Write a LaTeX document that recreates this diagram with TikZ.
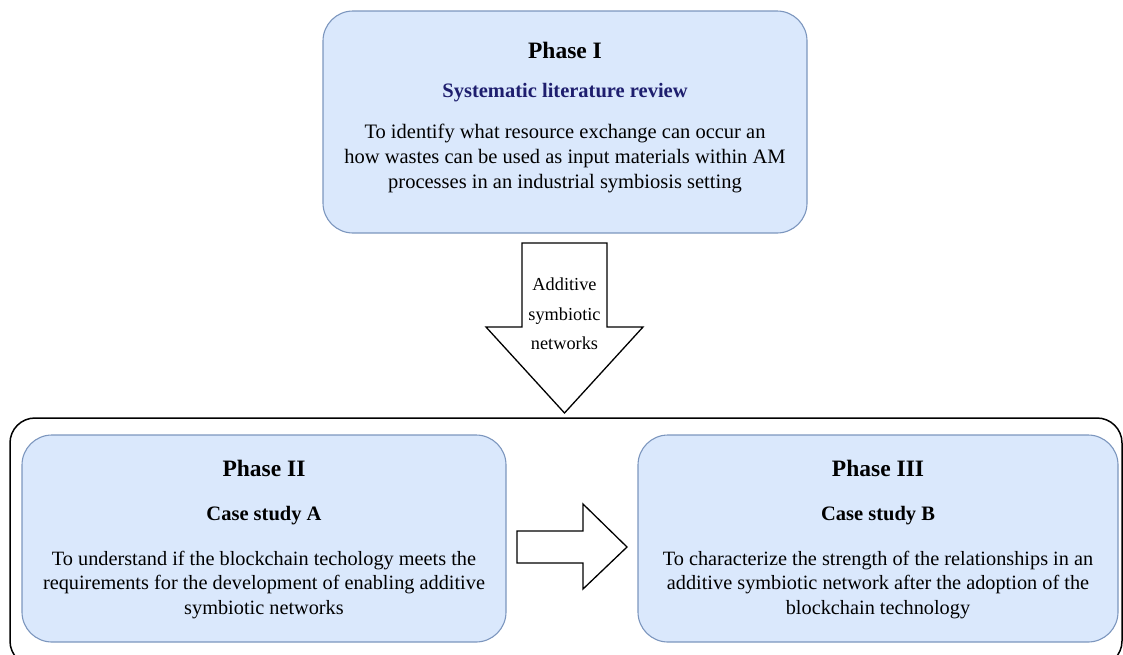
\documentclass[tikz,border=0pt]{standalone}
\usepackage{fontspec}
\setmainfont{Liberation Serif}
\definecolor{boxfill}{HTML}{DAE8FC}
\definecolor{boxline}{HTML}{7C96BE}
\definecolor{navy}{RGB}{30,30,110}
\begin{document}
\begin{tikzpicture}[x=1pt,y=-1pt,
  phasebox/.style={draw=boxline, fill=boxfill, line width=1.1pt, rounded corners=30pt},
  blockarrow/.style={draw=black, fill=white, line width=1.3pt, line join=miter},
  titletext/.style={font=\fontsize{23.5}{28}\selectfont\bfseries, inner sep=0pt},
  subtext/.style={font=\fontsize{20.5}{24}\selectfont\bfseries, inner sep=0pt},
  bodytext/.style={font=\fontsize{20.3}{24.5}\selectfont, align=center, inner sep=0pt},
  arrowtext/.style={font=\fontsize{18.3}{29.5}\selectfont, align=center, inner sep=0pt}]
\useasboundingbox (0,0) rectangle (1123,654);
% outer container
\draw[line width=1.5pt, rounded corners=25pt] (10,418) rectangle (1122,666);
% Phase I
\draw[phasebox] (323,11) rectangle (807,233);
\node[titletext] (p1title) at (565,50) {Phase I};
\node[subtext, text=navy] (p1sub) at (565,93) {Systematic literature review};
\node[bodytext, font=\fontsize{20.5}{25}\selectfont] (p1body) at (565,158) {To identify what resource exchange can occur an\\how wastes can be used as input materials within AM\\processes in an industrial symbiosis setting};
% down arrow
\draw[blockarrow] (522,243) -- (607,243) -- (607,327) -- (643,327) -- (564.5,413) -- (486,327) -- (522,327) -- cycle;
\node[arrowtext] (arrtext) at (564.5,314) {Additive\\symbiotic\\networks};
% Phase II
\draw[phasebox] (22,435) rectangle (506,642);
\node[titletext] (p2title) at (264,468) {Phase II};
\node[subtext] (p2sub) at (264,516) {Case study A};
\node[bodytext] (p2body) at (264,585) {To understand if the blockchain techology meets the\\requirements for the development of enabling additive\\symbiotic networks};
% Phase III
\draw[phasebox] (638,435) rectangle (1118,642);
\node[titletext] (p3title) at (878,468) {Phase III};
\node[subtext] (p3sub) at (878,516) {Case study B};
\node[bodytext] (p3body) at (878,585) {To characterize the strength of the relationships in an\\additive symbiotic network after the adoption of the\\blockchain technology};
% right arrow
\draw[blockarrow] (517,531) -- (583,531) -- (583,504) -- (627,547) -- (583,589) -- (583,563) -- (517,563) -- cycle;
\end{tikzpicture}
\end{document}
